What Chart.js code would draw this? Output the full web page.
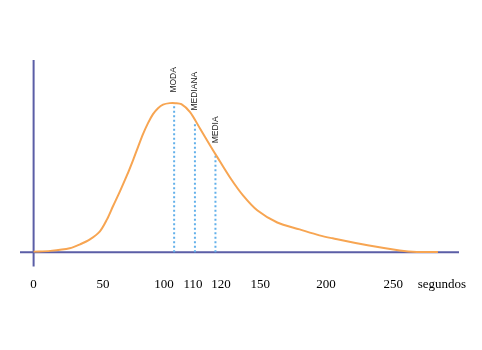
<!DOCTYPE html>
<html>
<head>
<meta charset="utf-8">
<script src="https://cdn.jsdelivr.net/npm/chart.js@4/dist/chart.umd.min.js"></script>
<style>
  html, body { margin: 0; padding: 0; background: #fff; }
  canvas { display: block; }
</style>
</head>
<body>
<canvas id="curva" width="482" height="350"></canvas>
<script>
// Distribution curve (seconds -> relative frequency)
const curveSeconds = [0, 12, 26, 33.5, 40.6, 47.8, 53.3, 58.2, 63.9, 69.7, 74.6, 78.7, 82.8, 86.9, 91, 95.1, 99.2, 102, 104, 106, 109, 112.5, 116, 118.6, 127, 137, 148, 163, 180, 195, 205, 231, 255, 268, 284];
const curveValues  = [0.5, 1.0, 2.7, 5.4, 8.7, 14.1, 22.1, 30.9, 40.9, 51.7, 61.7, 70.5, 79.2, 86.6, 92.6, 96.6, 99, 100, 100, 99.3, 94, 83, 72, 64, 50, 38, 28, 20, 15.4, 11.4, 9.4, 4.7, 1.3, 0.3, 0.2];

// Central tendency measures
const measureNames   = ['MODA', 'MEDIANA', 'MEDIA'];
const measureSeconds = [103.5, 110.7, 118];
const measureHeights = [99, 87, 65];

// Axis ticks
const tickValues = [0, 50, 100, 110, 120, 150, 200, 250, 287];
const tickLabels = ['0', '50', '100', '110', '120', '150', '200', '250', 'segundos'];

const AXIS_COLOR = '#5b5ea6';

// x axis is stretched around 100-120 so the three close labels fit
const tramos = [[-10, 0], [0, 0.031], [50, 0.189], [100, 0.328], [110, 0.394],
                [120, 0.458], [150, 0.547], [200, 0.697], [250, 0.850], [300, 1]];

class TramosScale extends Chart.LinearScale {
  getPixelForValue(value) {
    let i = 1;
    while (i < tramos.length - 1 && value > tramos[i][0]) i++;
    const [v0, f0] = tramos[i - 1];
    const [v1, f1] = tramos[i];
    return this.getPixelForDecimal(f0 + (value - v0) / (v1 - v0) * (f1 - f0));
  }
  getValueForPixel(pixel) {
    const d = this.getDecimalForPixel(pixel);
    let i = 1;
    while (i < tramos.length - 1 && d > tramos[i][1]) i++;
    const [v0, f0] = tramos[i - 1];
    const [v1, f1] = tramos[i];
    return v0 + (d - f0) / (f1 - f0) * (v1 - v0);
  }
}
TramosScale.id = 'tramos';
Chart.register(TramosScale);

// Both axes cross at (0, 0)
const ejes = {
  id: 'ejes',
  beforeDatasetsDraw(chart) {
    const { ctx, chartArea: a, scales: { x, y } } = chart;
    const x0 = x.getPixelForValue(0);
    const y0 = y.getPixelForValue(0);
    ctx.save();
    ctx.strokeStyle = AXIS_COLOR;
    ctx.lineWidth = 2;
    ctx.beginPath();
    ctx.moveTo(a.left, y0);
    ctx.lineTo(a.right, y0);
    ctx.moveTo(x0, a.top);
    ctx.lineTo(x0, a.bottom);
    ctx.stroke();
    ctx.restore();
  }
};

// Vertical names above each measure line
const etiquetas = {
  id: 'etiquetas',
  afterDatasetsDraw(chart) {
    const { ctx, scales: { x, y } } = chart;
    ctx.save();
    ctx.fillStyle = '#222';
    ctx.font = '8.5px "Liberation Sans", Arial, sans-serif';
    ctx.textAlign = 'left';
    ctx.textBaseline = 'middle';
    measureNames.forEach((name, i) => {
      const px = x.getPixelForValue(measureSeconds[i]);
      const py = y.getPixelForValue(measureHeights[i]) - 12;
      ctx.save();
      ctx.translate(px, py);
      ctx.rotate(-Math.PI / 2);
      ctx.fillText(name, 0, 0);
      ctx.restore();
    });
    ctx.restore();
  }
};

const datasets = [{
  data: curveSeconds.map((s, i) => ({ x: s, y: curveValues[i] })),
  borderColor: '#f7a552',
  borderWidth: 2,
  pointRadius: 0,
  tension: 0.3,
  fill: false
}];

measureNames.forEach((name, i) => {
  datasets.push({
    label: name,
    data: [{ x: measureSeconds[i], y: 0 }, { x: measureSeconds[i], y: measureHeights[i] }],
    borderColor: '#62b0ea',
    borderWidth: 2,
    borderDash: [2, 2.5],
    pointRadius: 0,
    fill: false
  });
});

new Chart(document.getElementById('curva'), {
  type: 'line',
  data: { datasets },
  options: {
    responsive: false,
    animation: false,
    devicePixelRatio: 1,
    layout: { padding: { left: 20, right: 23, top: 60, bottom: 48 } },
    plugins: { legend: { display: false }, tooltip: { enabled: false } },
    scales: {
      x: {
        type: 'tramos',
        min: -10,
        max: 300,
        grid: { display: false, drawTicks: false },
        border: { display: false },
        afterBuildTicks: scale => {
          scale.ticks = tickValues.map(v => ({ value: v }));
        },
        ticks: {
          autoSkip: false,
          maxRotation: 0,
          padding: 10,
          color: '#000',
          font: { family: '"Liberation Serif", "Times New Roman", serif', size: 13 },
          callback: (v, i) => tickLabels[i]
        }
      },
      y: {
        display: false,
        min: -9.4,
        max: 128.9
      }
    }
  },
  plugins: [ejes, etiquetas]
});
</script>
</body>
</html>
